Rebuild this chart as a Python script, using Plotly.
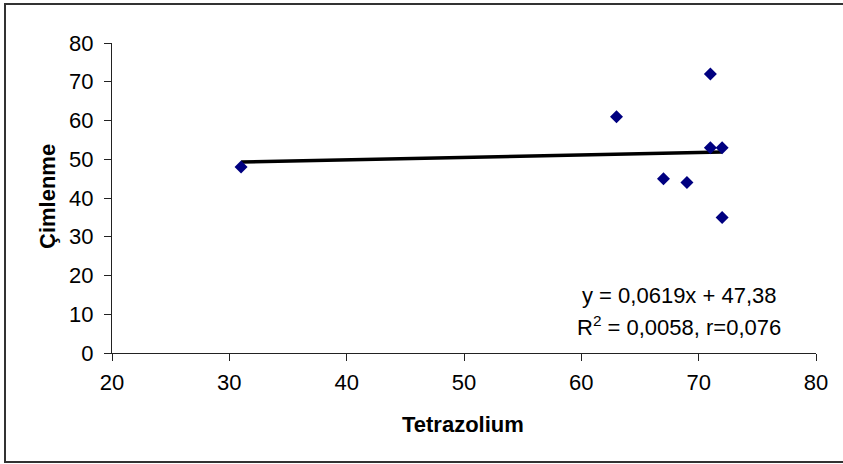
import numpy as np
import plotly.graph_objects as go

tetrazolium = [31, 63, 67, 69, 71, 71, 72, 72]
cimlenme = [48, 61, 45, 44, 72, 53, 53, 35]
x_ticks = [20, 30, 40, 50, 60, 70, 80]
y_ticks = [0, 10, 20, 30, 40, 50, 60, 70, 80]
eq_line1 = "y = 0,0619x + 47,38"
eq_line2 = "R<sup>2</sup> = 0,0058, r=0,076"

slope, intercept = np.polyfit(tetrazolium, cimlenme, 1)
tx = [min(tetrazolium), max(tetrazolium)]
ty = [slope * v + intercept for v in tx]

FONT = "Liberation Sans, Arial, sans-serif"
FS = 22

fig = go.Figure()
fig.add_trace(go.Scatter(x=tx, y=ty, mode="lines",
                         line=dict(color="black", width=3.5), hoverinfo="skip"))
fig.add_trace(go.Scatter(x=tetrazolium, y=cimlenme, mode="markers",
                         marker=dict(symbol="diamond", size=10, color="#000080",
                                     line=dict(width=0))))

L, R, T, B = 112, 27, 43, 111
W, H = 843, 464
pw, ph = W - L - R, H - T - B

def px(xp):
    return (xp - L) / pw

def py(yp):
    return (H - B - yp) / ph

axis_common = dict(showline=True, linecolor="#222", linewidth=1, ticks="outside",
                   ticklen=7, tickcolor="#222", showgrid=False, zeroline=False,
                   tickfont=dict(family=FONT, size=FS, color="black"))

fig.update_layout(
    width=W, height=H,
    margin=dict(l=L, r=R, t=T, b=B),
    paper_bgcolor="white", plot_bgcolor="white",
    showlegend=False,
    xaxis=dict(range=[20, 80], tickvals=x_ticks, ticktext=[str(v) for v in x_ticks],
               ticklabelstandoff=3, **axis_common),
    yaxis=dict(range=[0, 80], tickvals=y_ticks, ticktext=[str(v) for v in y_ticks],
               ticklabelstandoff=6, **axis_common),
    shapes=[dict(type="rect", xref="paper", yref="paper",
                 x0=px(5), x1=px(1000), y0=py(462), y1=py(4),
                 line=dict(color="#333", width=2), fillcolor="rgba(0,0,0,0)", layer="below")],
    annotations=[
        dict(text="<b>Tetrazolium</b>", xref="paper", yref="paper", x=px(463), y=py(424),
             showarrow=False, font=dict(family=FONT, size=FS, color="black"),
             xanchor="center", yanchor="middle"),
        dict(text="<b>Çimlenme</b>", xref="paper", yref="paper", x=px(47), y=py(197),
             showarrow=False, textangle=-90, font=dict(family=FONT, size=FS, color="black"),
             xanchor="center", yanchor="middle"),
        dict(text=eq_line1, xref="paper", yref="paper", x=px(679), y=py(295),
             showarrow=False, font=dict(family=FONT, size=FS, color="black"),
             xanchor="center", yanchor="middle"),
        dict(text=eq_line2, xref="paper", yref="paper", x=px(679), y=py(326),
             showarrow=False, font=dict(family=FONT, size=FS, color="black"),
             xanchor="center", yanchor="middle"),
    ],
)

fig.write_html("out.html")
